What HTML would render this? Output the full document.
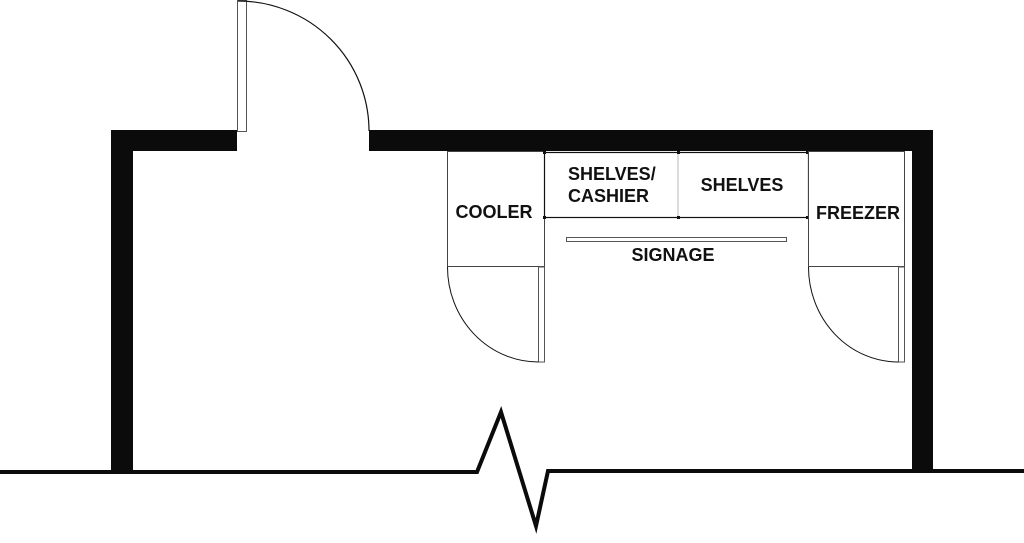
<!DOCTYPE html>
<html><head><style>
html,body{margin:0;padding:0;background:#fff;width:1024px;height:543px;overflow:hidden}
text{font-family:"Liberation Sans",Arial,sans-serif;font-weight:bold;font-size:18px;fill:#111}
</style></head><body>
<svg width="1024" height="543" viewBox="0 0 1024 543" xmlns="http://www.w3.org/2000/svg">
<rect x="0" y="0" width="1024" height="543" fill="#fff"/>
<rect x="111" y="130" width="22" height="342" fill="#0b0b0b"/>
<rect x="111" y="130" width="126" height="21" fill="#0b0b0b"/>
<rect x="369" y="130" width="564" height="21" fill="#0b0b0b"/>
<rect x="912" y="130" width="21" height="342" fill="#0b0b0b"/>
<polyline points="0,472 477,472 501,412 536,526 548,471 1024,471" fill="none" stroke="#0b0b0b" stroke-width="4" stroke-linejoin="miter" stroke-miterlimit="10"/>
<rect x="237.5" y="0.5" width="9" height="131" fill="#fff" stroke="#555" stroke-width="1"/>
<path d="M 238 1 A 131 130 0 0 1 369 131" fill="none" stroke="#111" stroke-width="1.2"/>
<rect x="447.5" y="151.5" width="97" height="115" fill="#fff" stroke="#444" stroke-width="1"/>
<rect x="538.5" y="267" width="6" height="95" fill="#fff" stroke="#555" stroke-width="1"/>
<path d="M 447.5 267 A 91 95 0 0 0 538.5 362" fill="none" stroke="#111" stroke-width="1"/>
<rect x="544.5" y="152.5" width="264" height="65" fill="#fff" stroke="#111" stroke-width="1.2"/>
<line x1="678" y1="152" x2="678" y2="218" stroke="#888" stroke-width="0.6"/>
<rect x="543" y="151" width="3" height="3" fill="#111"/><rect x="677" y="151" width="3" height="3" fill="#111"/><rect x="806" y="151" width="3" height="3" fill="#111"/>
<rect x="543" y="216" width="3" height="3" fill="#111"/><rect x="677" y="216" width="3" height="3" fill="#111"/><rect x="806" y="216" width="3" height="3" fill="#111"/>
<rect x="566.5" y="237.5" width="220" height="4" fill="#fff" stroke="#555" stroke-width="1"/>
<rect x="808.5" y="151.5" width="96" height="115" fill="#fff" stroke="#444" stroke-width="1"/>
<rect x="898.5" y="267" width="6" height="95" fill="#fff" stroke="#555" stroke-width="1"/>
<path d="M 808.5 267 A 90 95 0 0 0 898.5 362" fill="none" stroke="#111" stroke-width="1"/>
<text x="494" y="218" text-anchor="middle">COOLER</text>
<text x="568" y="180">SHELVES/</text>
<text x="568" y="202">CASHIER</text>
<text x="742" y="191" text-anchor="middle">SHELVES</text>
<text x="858" y="219" text-anchor="middle">FREEZER</text>
<text x="673" y="261" text-anchor="middle">SIGNAGE</text>
</svg>
</body></html>
